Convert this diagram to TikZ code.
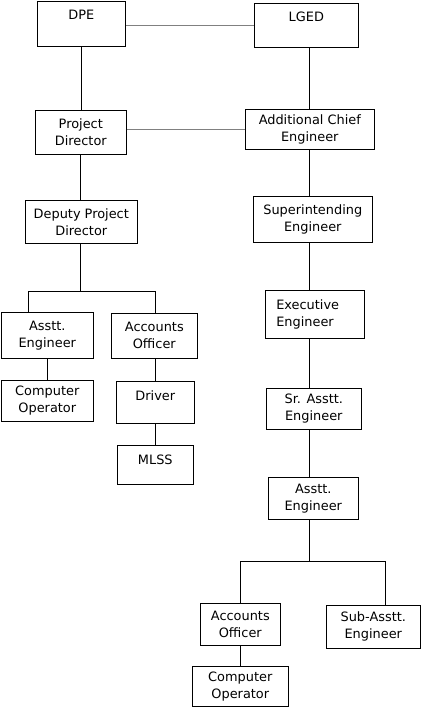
\documentclass[tikz,border=0pt]{standalone}
\usepackage{fontspec}
\setmainfont{DejaVu Sans}
\usetikzlibrary{calc}
\tikzset{
  post/.style={draw=black, line width=0.9pt, inner sep=0pt, align=center,
    font=\fontsize{12.9}{17}\selectfont},
  lift/.style={text depth=#1},
  link/.style={draw=black, line width=0.9pt},
  peer/.style={draw=black!50, line width=0.9pt},
}

\begin{document}
\begin{tikzpicture}[x=1pt, y=-1pt]
  \useasboundingbox (0,0) rectangle (423,708);
  % left column
  \node[post, minimum width=88pt, minimum height=45pt, lift=18pt] (dpe) at (81.3,23.8) {DPE};
  \node[post, minimum width=91pt, minimum height=44pt] (pd) at (80.8,132.3) {Project\\Director};
  \node[post, minimum width=112pt, minimum height=43pt] (dpd) at (81.3,221.8) {Deputy Project\\Director};
  \node[post, minimum width=92pt, minimum height=46pt] (ae1) at (47.3,335.2) {Asstt.\\Engineer};
  \node[post, minimum width=86pt, minimum height=45pt] (ao1) at (154.3,335.8) {Accounts\\Officer};
  \node[post, minimum width=92pt, minimum height=41pt] (co1) at (47.3,400.8) {Computer\\Operator};
  \node[post, minimum width=78pt, minimum height=42pt, lift=14pt] (drv) at (155.3,402.3) {Driver};
  \node[post, minimum width=76pt, minimum height=39pt, lift=11pt] (mlss) at (155.3,464.8) {MLSS};
  % right column
  \node[post, minimum width=104pt, minimum height=44pt, lift=17pt] (lged) at (306.3,25.3) {LGED};
  \node[post, minimum width=129pt, minimum height=40pt] (ace) at (309.8,129.3) {Additional Chief\\Engineer};
  \node[post, minimum width=119pt, minimum height=46pt] (se) at (312.8,219.3) {Superintending\\Engineer};
  \node[post, minimum width=99pt, minimum height=48pt, text width=77pt, align=left] (ee) at (314.8,314.3) {Executive\\Engineer};
  \node[post, minimum width=95pt, minimum height=41pt] (sae) at (313.8,408.8) {Sr. Asstt.\\Engineer};
  \node[post, minimum width=90pt, minimum height=42pt] (ae2) at (313.3,498.3) {Asstt.\\Engineer};
  \node[post, minimum width=80pt, minimum height=42pt] (ao2) at (240.3,624.3) {Accounts\\Officer};
  \node[post, minimum width=94pt, minimum height=43pt] (subae) at (373.3,626.8) {Sub-Asstt.\\Engineer};
  \node[post, minimum width=96pt, minimum height=40pt] (co2) at (240.3,686.3) {Computer\\Operator};

  \coordinate (spine) at (309,0);
  \coordinate (lbranch) at (28.3,291.3);
  \coordinate (lfork) at (80.3,291.3);
  \coordinate (rbranch) at (155.3,291.3);
  \coordinate (sfork) at (309,561.3);
  \coordinate (sright) at (385.3,561.3);

  \draw[peer] (lged.west -| dpe.east) -- (lged.west);
  \draw[peer] (ace.west -| pd.east) -- (ace.west);
  \draw[link] (dpe.south) -- (dpe.south |- pd.north);
  \draw[link] (pd.south) -- (pd.south |- dpd.north);
  \draw[link] (dpd.south -| lfork) -- (lfork);
  \draw[link] (ae1.north -| lbranch) -- (lbranch) -- (rbranch) -- (ao1.north -| rbranch);
  \draw[link] (ae1.south) -- (co1.north);
  \draw[link] (ao1.south -| rbranch) -- (drv.north -| rbranch);
  \draw[link] (drv.south -| rbranch) -- (mlss.north -| rbranch);
  \draw[link] (lged.south -| spine) -- (ace.north -| spine);
  \draw[link] (ace.south -| spine) -- (se.north -| spine);
  \draw[link] (se.south -| spine) -- (ee.north -| spine);
  \draw[link] (ee.south -| spine) -- (sae.north -| spine);
  \draw[link] (sae.south -| spine) -- (ae2.north -| spine);
  \draw[link] (ae2.south -| spine) -- (sfork);
  \draw[link] (ao2.north) -- (ao2.north |- sfork) -- (sright) -- (sright |- subae.north);
  \draw[link] (ao2.south) -- (co2.north);
\end{tikzpicture}
\end{document}
